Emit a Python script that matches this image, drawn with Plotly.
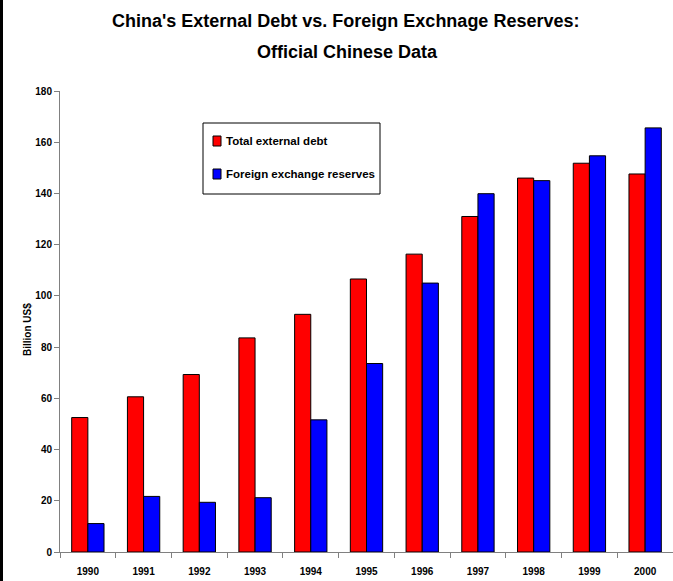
import plotly.graph_objects as go

years = ["1990", "1991", "1992", "1993", "1994", "1995", "1996", "1997", "1998", "1999", "2000"]
external_debt = [52.5, 60.6, 69.3, 83.6, 92.8, 106.6, 116.3, 131.0, 146.0, 151.8, 147.6]
fx_reserves = [11.1, 21.7, 19.4, 21.2, 51.6, 73.6, 105.0, 139.9, 145.0, 154.7, 165.6]
y_ticks = [0, 20, 40, 60, 80, 100, 120, 140, 160, 180]
series_names = ["Total external debt", "Foreign exchange reserves"]
series_colors = ["#ff0000", "#0000ff"]

FONT = "Liberation Sans, Arial, sans-serif"
L, T, PW, PH = 60, 91, 613, 461


def px_x(p):
    return (p - L) / PW


def px_y(p):
    return (T + PH - p) / PH


fig = go.Figure()
for name, vals, col in zip(series_names, [external_debt, fx_reserves], series_colors):
    fig.add_trace(go.Bar(
        x=years, y=vals, name=name,
        marker=dict(color=col, line=dict(color="#000000", width=1)),
    ))

fig.update_layout(
    width=673, height=581,
    margin=dict(l=L, r=673 - L - PW, t=T, b=581 - T - PH, autoexpand=False),
    paper_bgcolor="white", plot_bgcolor="white",
    barmode="group", bargap=0.42, bargroupgap=0,
    font=dict(family=FONT, color="#000000", size=10),
    showlegend=False,
    xaxis=dict(
        type="category", tickson="boundaries", automargin=False,
        showline=True, linecolor="#808080", linewidth=1,
        ticks="outside", ticklen=5, tickcolor="#808080",
        tickfont=dict(family=FONT, size=10, color="#000000"),
        ticklabelstandoff=10,
        showgrid=False, zeroline=False,
        tickprefix="<b>", ticksuffix="</b>",
    ),
    yaxis=dict(
        range=[0, 180], tickvals=y_ticks, automargin=False,
        ticktext=[f"<b>{v}</b>" for v in y_ticks],
        showline=True, linecolor="#808080", linewidth=1,
        ticks="outside", ticklen=5, tickcolor="#808080",
        tickfont=dict(family=FONT, size=10, color="#000000"),
        showgrid=False, zeroline=False,
    ),
)

annotations = [
    dict(text="<b>China's External Debt vs. Foreign Exchnage Reserves:</b>",
         x=px_x(345.5), y=px_y(21), xanchor="center", yanchor="middle",
         font=dict(family=FONT, size=18)),
    dict(text="<b>Official Chinese Data</b>",
         x=px_x(347.5), y=px_y(52), xanchor="center", yanchor="middle",
         font=dict(family=FONT, size=18)),
    dict(text="<b>Billion US$</b>", textangle=-90,
         x=px_x(27), y=px_y(330), xanchor="center", yanchor="middle",
         font=dict(family=FONT, size=10)),
]
# legend (drawn box, swatches and labels)
legend_rows = [141, 174]
for name, col, cy in zip(series_names, series_colors, legend_rows):
    annotations.append(dict(text=f"<b>{name}</b>", x=px_x(224), y=px_y(cy),
                            xanchor="left", yanchor="middle",
                            font=dict(family=FONT, size=11.5)))
for a in annotations:
    a.update(xref="paper", yref="paper", showarrow=False)
fig.update_layout(annotations=annotations)

shapes = [
    dict(type="rect", x0=px_x(203), x1=px_x(380), y0=px_y(194), y1=px_y(123),
         line=dict(color="#000000", width=1), fillcolor="white", layer="above"),
    dict(type="line", x0=px_x(1.5), x1=px_x(1.5), y0=px_y(581), y1=px_y(0),
         line=dict(color="#000000", width=3)),
]
for col, cy in zip(series_colors, legend_rows):
    shapes.append(dict(type="rect", x0=px_x(213), x1=px_x(221), y0=px_y(cy + 5), y1=px_y(cy - 5),
                       line=dict(color="#000000", width=1), fillcolor=col, layer="above"))
for s in shapes:
    s.update(xref="paper", yref="paper")
fig.update_layout(shapes=shapes)

fig.write_html("out.html", config={"displayModeBar": False},
               post_script="document.body.style.margin='0';")
